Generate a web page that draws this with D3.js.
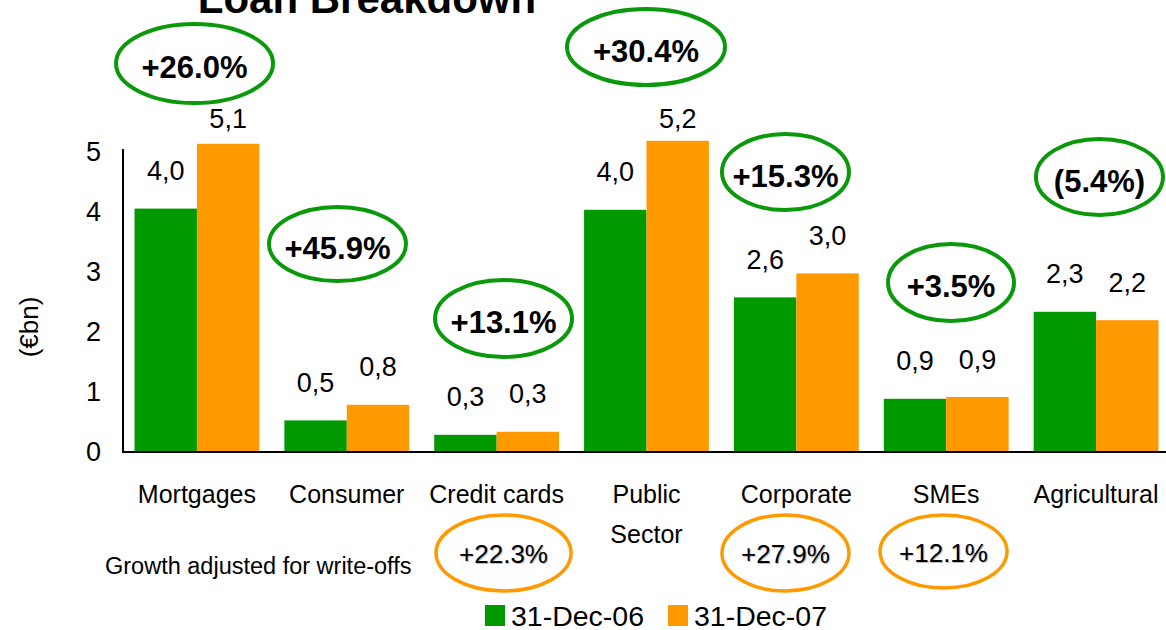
<!DOCTYPE html>
<html>
<head>
<meta charset="utf-8">
<script src="https://cdn.jsdelivr.net/npm/d3@7/dist/d3.min.js"></script>
<style>
  html, body { margin: 0; padding: 0; background: #fff; }
  svg { display: block; font-family: "Liberation Sans", Arial, sans-serif; }
</style>
</head>
<body>
<svg id="chart" width="1166" height="630"></svg>
<script>
// ---- data ----
const categories = ["Mortgages", "Consumer", "Credit cards", "Public\nSector", "Corporate", "SMEs", "Agricultural"];
const seriesNames = ["31-Dec-06", "31-Dec-07"];
const values2006 = [4.04, 0.51, 0.27, 4.02, 2.56, 0.87, 2.32];
const values2007 = [5.12, 0.77, 0.32, 5.17, 2.96, 0.90, 2.18];
const growth = ["+26.0%", "+45.9%", "+13.1%", "+30.4%", "+15.3%", "+3.5%", "(5.4%)"];
const growthAdjusted = [null, null, "+22.3%", null, "+27.9%", "+12.1%", null];
const yTicks = [0, 1, 2, 3, 4, 5];
const title = "Loan Breakdown";
const yTitle = "(€bn)";
const adjNote = "Growth adjusted for write-offs";

// ---- layout for callouts (pixels) ----
const greenCallout = [
  {dx: -2.4, cy: 63.5, rx: 78.5, ry: 39.5},
  {dx: -9.3, cy: 244, rx: 68.5, ry: 37},
  {dx: 6.9, cy: 318.5, rx: 68.5, ry: 38.5},
  {dx: -0.5, cy: 47, rx: 79, ry: 38},
  {dx: -10.9, cy: 172, rx: 63.5, ry: 38},
  {dx: 4.8, cy: 282.5, rx: 63, ry: 38.5},
  {dx: 3.4, cy: 177, rx: 63.5, ry: 38}
];
const orangeCallout = [
  null, null,
  {dx: 6.9, cy: 553, rx: 67.5, ry: 38},
  null,
  {dx: -10.9, cy: 553, rx: 63.5, ry: 38},
  {dx: -2.7, cy: 551.5, rx: 63.5, ry: 36.5},
  null
];

const colors = ["#009900", "#ff9900"];
const svg = d3.select("#chart");

const x0 = d3.scaleBand().domain(categories).range([122, 1171]).paddingInner(0.167).paddingOuter(0.0835);
const x1 = d3.scaleBand().domain(seriesNames).range([0, x0.bandwidth()]).padding(0);
const y = d3.scaleLinear().domain([0, 5]).range([451, 151]);

const rows = categories.map((c, i) => ({cat: c, i, vals: [values2006[i], values2007[i]]}));

// bars
const g = svg.append("g");
rows.forEach(r => {
  r.vals.forEach((v, k) => {
    g.append("rect")
      .attr("x", x0(r.cat) + x1(seriesNames[k]))
      .attr("y", y(v))
      .attr("width", x1.bandwidth())
      .attr("height", y(0) - y(v))
      .attr("fill", colors[k]);
  });
});

// value labels
const fmt = v => d3.format(".1f")(v).replace(".", ",");
rows.forEach(r => {
  r.vals.forEach((v, k) => {
    svg.append("text")
      .attr("x", x0(r.cat) + x1(seriesNames[k]) + x1.bandwidth() / 2)
      .attr("y", Math.max(y(v) - 28.5, 128))
      .attr("text-anchor", "middle")
      .attr("font-size", 27)
      .attr("fill", "#000")
      .text(fmt(v));
  });
});

// axes
const yAxis = d3.axisLeft(y).tickValues(yTicks).tickSize(0).tickPadding(0).tickFormat(d3.format("d"));
const yg = svg.append("g").attr("transform", "translate(101,0)").call(yAxis);
yg.attr("font-size", 27).attr("font-family", "Liberation Sans, Arial, sans-serif");
yg.select(".domain").remove();
yg.selectAll("text").attr("font-size", 27).attr("fill", "#000").attr("dy", "0.36em");

svg.append("line").attr("x1", 123).attr("x2", 123).attr("y1", 149).attr("y2", y(0) + 1)
  .attr("stroke", "#000").attr("stroke-width", 2);
svg.append("line").attr("x1", 122).attr("x2", 1166).attr("y1", y(0) + 1).attr("y2", y(0) + 1)
  .attr("stroke", "#000").attr("stroke-width", 2);

// category labels
categories.forEach(c => {
  const lines = c.split("\n");
  const t = svg.append("text")
    .attr("x", x0(c) + x0.bandwidth() / 2)
    .attr("y", 503)
    .attr("text-anchor", "middle")
    .attr("font-size", 25)
    .attr("fill", "#000");
  lines.forEach((ln, j) => {
    t.append("tspan").attr("x", x0(c) + x0.bandwidth() / 2).attr("dy", j === 0 ? 0 : 40).text(ln);
  });
});

// growth callouts (green, bold)
categories.forEach((c, i) => {
  const L = greenCallout[i];
  const cx = x0(c) + x0.bandwidth() / 2 + L.dx;
  svg.append("ellipse").attr("cx", cx).attr("cy", L.cy).attr("rx", L.rx).attr("ry", L.ry)
    .attr("fill", "none").attr("stroke", "#0a990a").attr("stroke-width", 4);
  svg.append("text").attr("x", cx).attr("y", L.cy + 14.5)
    .attr("text-anchor", "middle").attr("font-size", 31).attr("font-weight", "bold")
    .attr("fill", "#000").text(growth[i]);
});

// growth adjusted callouts (orange)
categories.forEach((c, i) => {
  if (!growthAdjusted[i]) return;
  const L = orangeCallout[i];
  const cx = x0(c) + x0.bandwidth() / 2 + L.dx;
  svg.append("ellipse").attr("cx", cx).attr("cy", L.cy).attr("rx", L.rx).attr("ry", L.ry)
    .attr("fill", "none").attr("stroke", "#ff9900").attr("stroke-width", 3.5);
  svg.append("text").attr("x", cx + 1).attr("y", L.cy + 11)
    .attr("text-anchor", "middle").attr("font-size", 26)
    .attr("fill", "#bbb").text(growthAdjusted[i]);
  svg.append("text").attr("x", cx).attr("y", L.cy + 10)
    .attr("text-anchor", "middle").attr("font-size", 26)
    .attr("fill", "#000").text(growthAdjusted[i]);
});

// note
svg.append("text").attr("x", 105).attr("y", 574).attr("font-size", 23.5).attr("fill", "#000").text(adjNote);

// title
svg.append("text").attr("x", 367).attr("y", 13).attr("text-anchor", "middle")
  .attr("font-size", 42).attr("font-weight", "bold").attr("fill", "#000").text(title);

// y title
svg.append("text").attr("transform", "translate(38,327) rotate(-90)")
  .attr("text-anchor", "middle").attr("font-size", 26).attr("fill", "#000").text(yTitle);

// legend
const legendX = [485, 668];
seriesNames.forEach((s, k) => {
  svg.append("rect").attr("x", legendX[k]).attr("y", 605).attr("width", 20).attr("height", 21).attr("fill", colors[k]);
  svg.append("text").attr("x", legendX[k] + 26).attr("y", 626).attr("font-size", 28.5).attr("fill", "#000").text(s);
});
</script>
</body>
</html>
